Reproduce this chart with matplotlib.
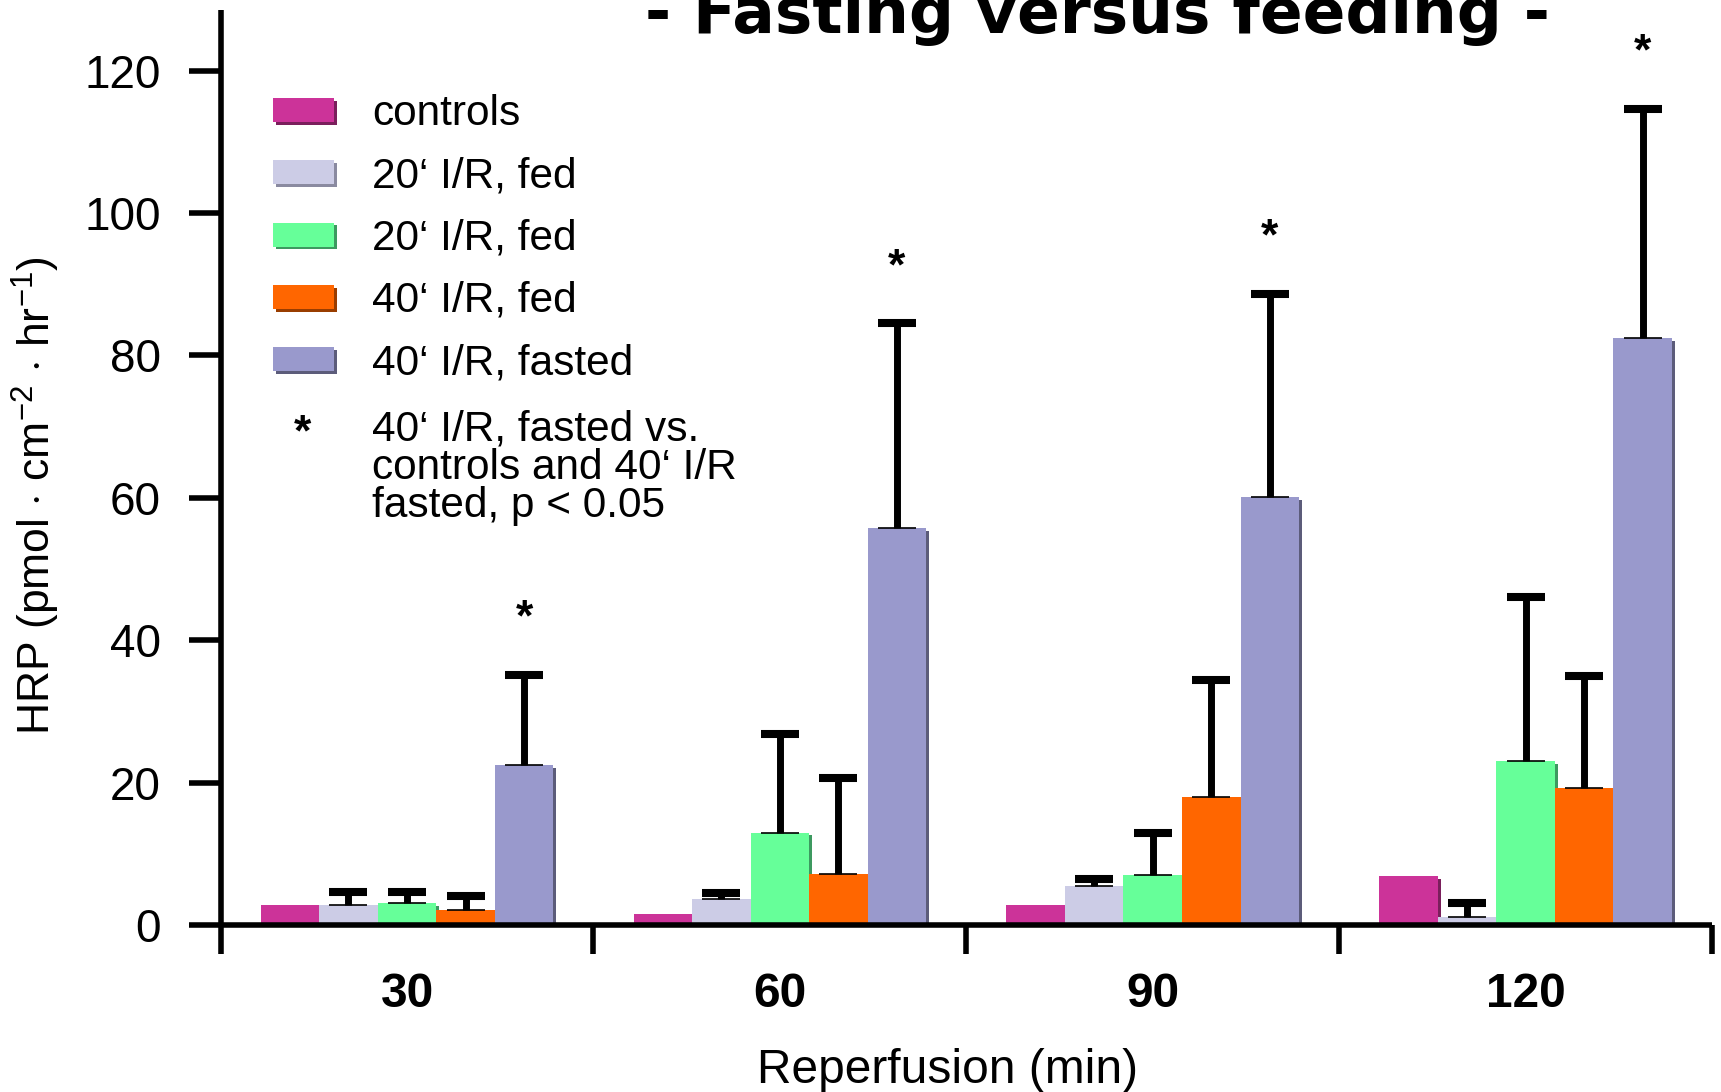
import matplotlib
matplotlib.use("Agg")
import matplotlib.pyplot as plt
import matplotlib.patheffects as pe
from matplotlib.patches import Rectangle
import numpy as np

plt.rcParams["font.family"] = ["Liberation Sans", "DejaVu Sans"]
plt.rcParams["mathtext.fontset"] = "custom"
plt.rcParams["mathtext.rm"] = "Liberation Sans"
plt.rcParams["mathtext.it"] = "Liberation Sans:italic"
plt.rcParams["mathtext.bf"] = "Liberation Sans:bold"

# Reperfusion time points (min)
groups = ["30", "60", "90", "120"]

# Group names, in drawing order
series = ["controls", "20\u2018 I/R, fed", "20\u2018 I/R, fed", "40\u2018 I/R, fed", "40\u2018 I/R, fasted"]

# Mean HRP flux per group and time point
controls = [2.8, 1.6, 2.8, 6.9]
ir20_fed_a = [2.8, 3.7, 5.5, 1.2]
ir20_fed_b = [3.1, 13.0, 7.1, 23.0]
ir40_fed = [2.2, 7.2, 18.0, 19.3]
ir40_fasted = [22.5, 55.8, 60.1, 82.4]

# Upper error (SEM) for each group and time point
controls_err = [0.0, 0.0, 0.0, 0.0]
ir20_fed_a_err = [1.9, 0.9, 1.0, 2.0]
ir20_fed_b_err = [1.6, 13.9, 5.9, 23.1]
ir40_fed_err = [1.9, 13.5, 16.5, 15.7]
ir40_fasted_err = [12.6, 28.7, 28.5, 32.2]

# Time points with a significant difference (fasted vs. others)
significant = [True, True, True, True]

means = [controls, ir20_fed_a, ir20_fed_b, ir40_fed, ir40_fasted]
errors = [controls_err, ir20_fed_a_err, ir20_fed_b_err, ir40_fed_err, ir40_fasted_err]

colors = ["#CC3399", "#CCCCE6", "#66FF99", "#FF6600", "#9999CC"]
shadows = ["#7A1F5C", "#8A8AA0", "#3D9960", "#993D00", "#5C5C7A"]

W, H = 1721, 1092
fig = plt.figure(figsize=(W / 100, H / 100), dpi=100)


def fx(px):
    return px / W


def fy(py):
    return 1 - py / H


ax = fig.add_axes([fx(220.6), fy(925.3), fx(1712) - fx(220.6), fy(10) - fy(925.3)])

x = np.arange(1, len(groups) + 1)
bar_w = 0.157
offsets = (np.arange(len(series)) - (len(series) - 1) / 2) * bar_w

for i, (vals, errs) in enumerate(zip(means, errors)):
    xi = x + offsets[i]
    effects = [pe.SimplePatchShadow(offset=(2, -2), shadow_rgbFace=shadows[i], alpha=1.0), pe.Normal()]
    ax.bar(xi, vals, width=bar_w, color=colors[i], linewidth=0, label=series[i],
           path_effects=effects, zorder=2 + i * 0.1)

for i, (vals, errs) in enumerate(zip(means, errors)):
    errs = np.asarray(errs)
    if not np.any(errs > 0):
        continue
    xi = x + offsets[i]
    vals = np.asarray(vals)
    _, caps, _ = ax.errorbar(xi, vals, yerr=[np.zeros_like(errs), errs], fmt="none",
                             ecolor="black", elinewidth=5, capsize=13.7, capthick=5.8, zorder=5)
    for cap in caps:
        if np.allclose(cap.get_ydata(), vals):
            cap.set_markeredgewidth(1.2)

# Significance markers above the fasted group
top_vals = np.asarray(ir40_fasted) + np.asarray(ir40_fasted_err)
for xi, yv, sig in zip(x + offsets[-1], top_vals, significant):
    if sig:
        ax.annotate("*", xy=(xi, yv), xytext=(0, 32), textcoords="offset points",
                    ha="center", va="baseline", fontsize=32, fontweight="bold")

ax.set_xlim(0.5, 4.5)
ax.set_ylim(0, 128.5)

for side in ["top", "right"]:
    ax.spines[side].set_visible(False)
for side in ["left", "bottom"]:
    ax.spines[side].set_linewidth(4)
    ax.spines[side].set_capstyle("butt")

ax.set_yticks(np.arange(0, 121, 20))
ax.tick_params(axis="y", which="major", length=23, width=4, pad=20, labelsize=33, direction="out")
ax.set_xticks(x)
ax.set_xticklabels(groups, fontsize=34.5, fontweight="bold")
ax.set_xticks(np.arange(0.5, len(groups) + 1, 1.0), minor=True)
ax.tick_params(axis="x", which="major", length=0, pad=33.5)
ax.tick_params(axis="x", which="minor", length=21, width=4, direction="out")

ax.set_xlabel("Reperfusion (min)", fontsize=34.5, va="baseline")
ax.xaxis.set_label_coords(0.4874, -0.1723)
ax.set_ylabel(r"HRP (pmol $\cdot$ cm$^{-2}$ $\cdot$ hr$^{-1}$)", fontsize=32, va="center")
ax.yaxis.set_label_coords(-0.1238, 0.469)

fig.text(fx(1097), fy(33), "- Fasting versus feeding -", ha="center", va="baseline",
         fontsize=45.4, fontweight="bold", family=["DejaVu Sans"])

# Legend with shadowed swatches
row0, row_step = 110.0, 62.3
for i, (name, col, sh) in enumerate(zip(series, colors, shadows)):
    cy = row0 + i * row_step
    swatch = Rectangle((fx(273), fy(cy + 12)), fx(334) - fx(273), fy(cy - 12) - fy(cy + 12),
                       transform=fig.transFigure, facecolor=col, linewidth=0,
                       path_effects=[pe.SimplePatchShadow(offset=(2, -2), shadow_rgbFace=sh, alpha=1.0),
                                     pe.Normal()])
    fig.patches.append(swatch)
    fig.text(fx(372), fy(cy + 15), name, ha="left", va="baseline", fontsize=30.5)

fig.text(fx(302), fy(445), "*", ha="center", va="baseline", fontsize=32, fontweight="bold")
fig.text(fx(372), fy(516.5), "40\u2018 I/R, fasted vs.\ncontrols and 40\u2018 I/R\nfasted, p < 0.05",
         ha="left", va="baseline", fontsize=30.5, linespacing=0.935)

fig.savefig("out.png", dpi=100)
